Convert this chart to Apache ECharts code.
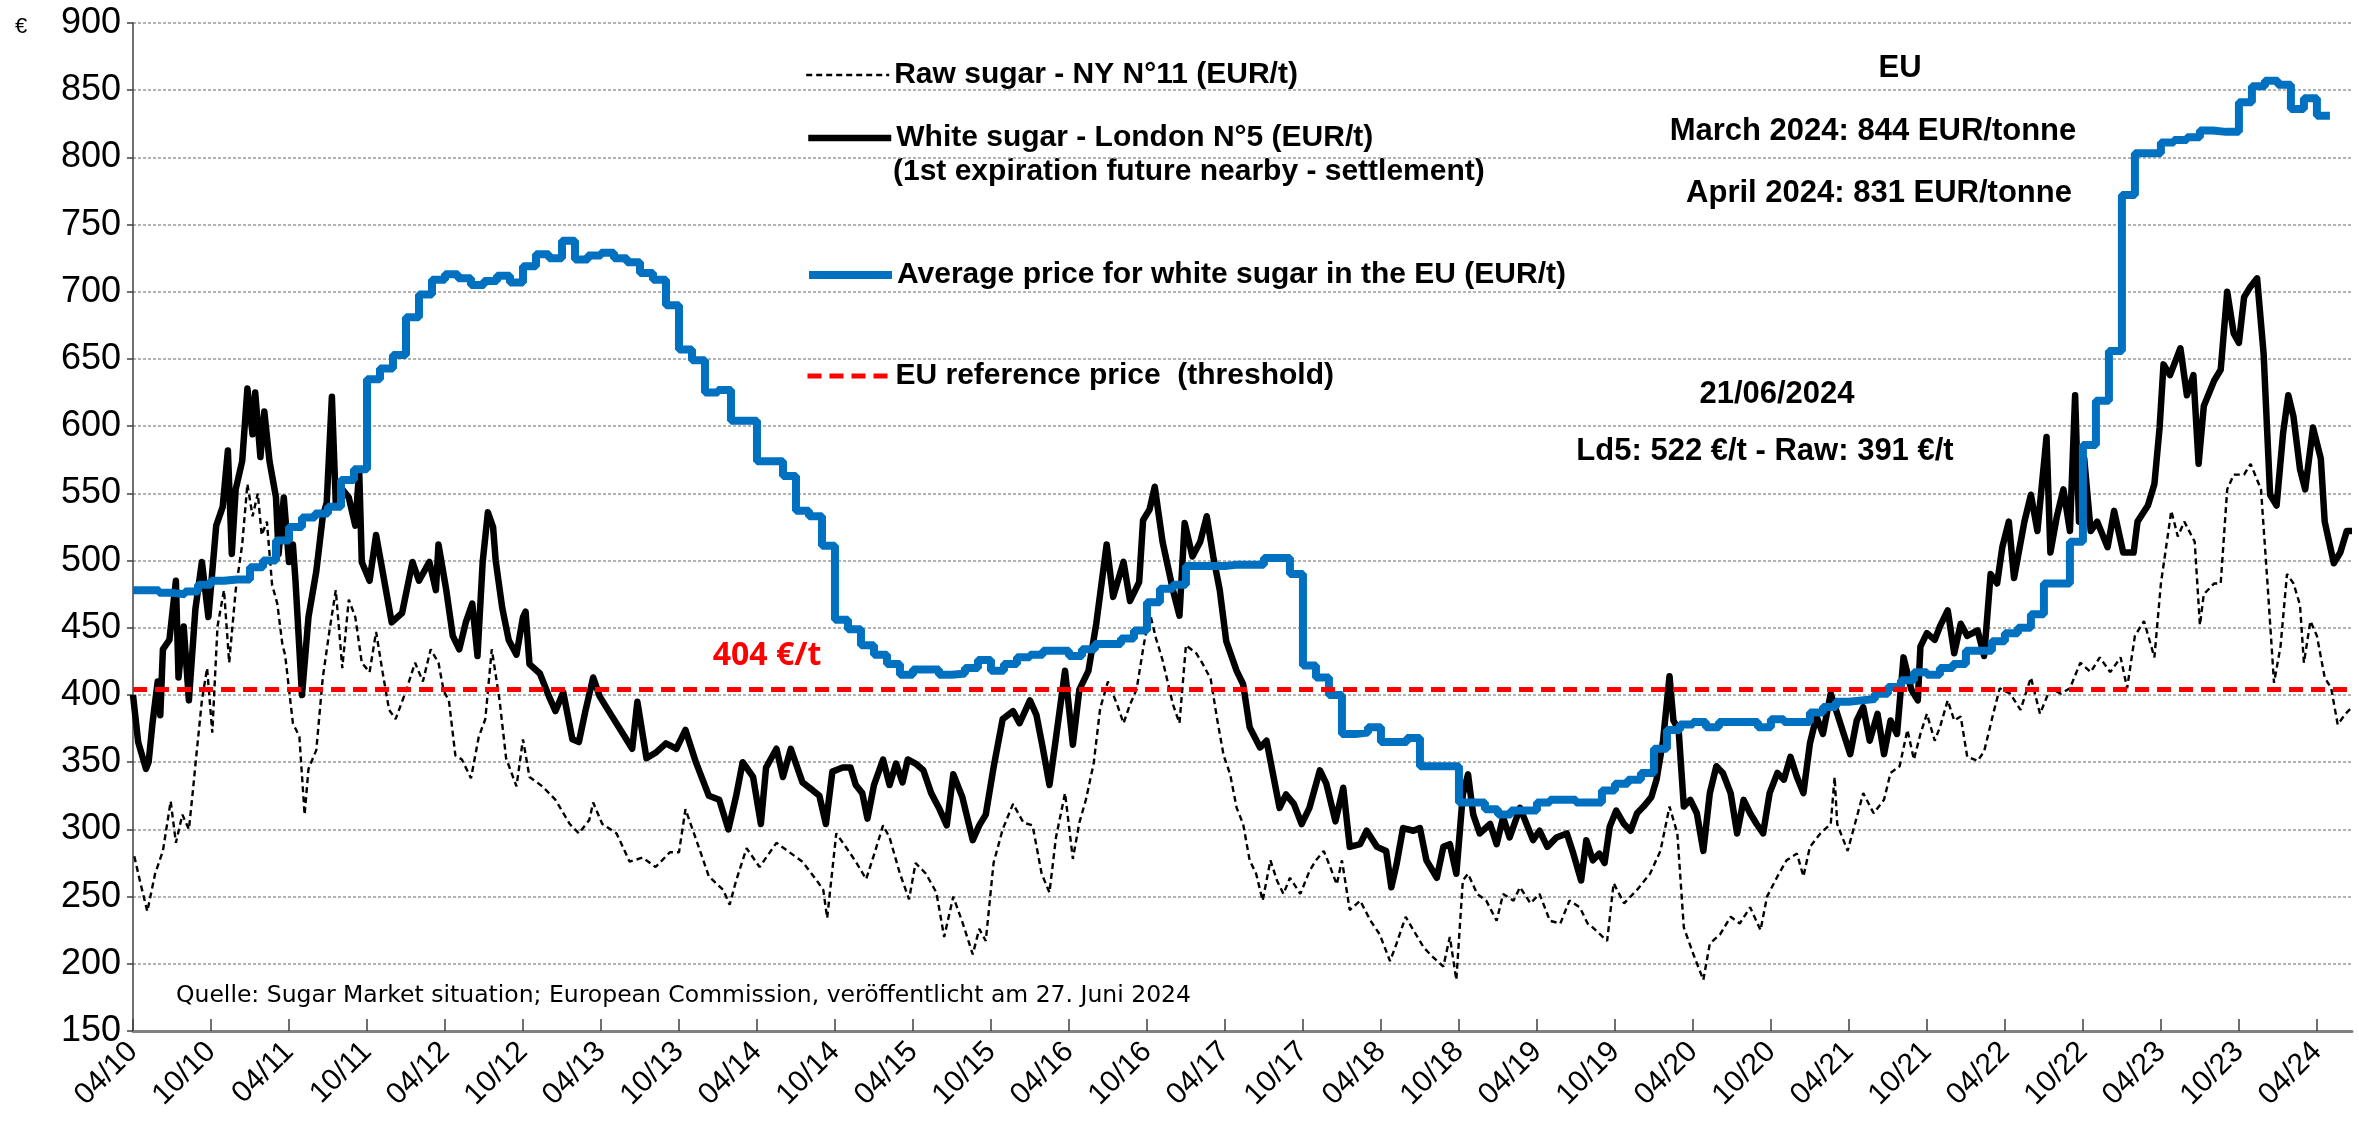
<!DOCTYPE html>
<html>
<head>
<meta charset="utf-8">
<title>Sugar prices</title>
<script src="https://cdn.jsdelivr.net/npm/echarts@6/dist/echarts.min.js"></script>
<style>
  html, body { margin: 0; padding: 0; background: #fff; }
  #chart { width: 2359px; height: 1131px; }
</style>
</head>
<body>
<div id="chart"></div>
<script>
// x values are months counted from April 2010 (0 = 04/10)
var xTickLabels = ['04/10','10/10','04/11','10/11','04/12','10/12','04/13','10/13','04/14','10/14',
  '04/15','10/15','04/16','10/16','04/17','10/17','04/18','10/18','04/19','10/19',
  '04/20','10/20','04/21','10/21','04/22','10/22','04/23','10/23','04/24'];

// EU average price for white sugar, one value per month from 04/2010 to 04/2024 (EUR/t)
var euAverage = [
  478, 478, 476, 475, 477, 482, 485, 486, 486, 495, 500, 515,
  525, 532, 535, 540, 560, 568, 635, 643, 653, 681, 698, 709,
  713, 710, 705, 708, 712, 707, 719, 728, 725, 738, 724, 727,
  729, 725, 722, 714, 709, 690, 657, 649, 625, 627, 604, 604,
  574, 574, 563, 537, 533, 511, 456, 449, 437, 430, 423, 415,
  419, 419, 415, 416, 420, 426, 418, 423, 428, 430, 433, 433,
  429, 434, 438, 438, 442, 448, 469, 479, 482, 496, 496, 496,
  497, 497, 497, 502, 502, 490, 422, 413, 400, 371, 372, 376,
  365, 365, 368, 347, 347, 347, 320, 320, 315, 311, 314, 314,
  320, 322, 322, 320, 320, 329, 334, 337, 342, 360, 374, 378,
  380, 376, 380, 380, 380, 376, 382, 380, 380, 387, 391, 395,
  396, 397, 401, 406, 411, 417, 415, 420, 423, 433, 433, 440,
  446, 450, 460, 483, 483, 514, 586, 619, 656, 772, 803, 803,
  811, 813, 815, 820, 819, 819, 841, 853, 857, 854, 836, 844,
  831
];

// White sugar - London N°5, [month, EUR/t]
var whiteSugar = [
  [0,400],[0.4,365],[1.0,345],[1.2,350],[1.5,379],[1.9,410],[2.1,385],[2.3,434],[2.8,441],[3.3,485],
  [3.5,413],[3.9,451],[4.3,396],[4.8,464],[5.3,499],[5.8,458],[6.4,526],[6.9,540],[7.3,582],[7.6,505],
  [7.9,553],[8.4,574],[8.8,628],[9.2,594],[9.4,625],[9.8,577],[10.1,611],[10.5,574],[11.0,547],[11.2,505],
  [11.6,547],[12.0,499],[12.3,512],[12.5,485],[13.0,400],[13.5,458],[14.1,492],[14.6,533],[14.9,543],[15.3,622],
  [15.6,543],[16.1,553],[16.6,547],[17.1,526],[17.4,567],[17.6,499],[18.2,485],[18.7,519],[19.2,492],[19.9,454],
  [20.7,461],[21.5,499],[22.0,485],[22.8,499],[23.3,478],[23.5,512],[24.1,478],[24.6,444],[25.1,434],[25.6,454],
  [26.1,468],[26.5,429],[26.9,499],[27.3,536],[27.7,525],[27.9,500],[28.4,465],[28.9,441],[29.5,430],[30.0,458],
  [30.2,462],[30.5,423],[31.3,416],[32.0,399],[32.5,388],[33.1,402],[33.8,367],[34.3,365],[34.8,388],[35.4,413],
  [35.9,399],[36.6,388],[37.7,371],[38.4,360],[38.8,395],[39.5,353],[40.2,357],[41.0,364],[41.8,360],[42.5,374],
  [43.3,350],[44.3,325],[45.1,322],[45.8,300],[46.4,325],[46.9,350],[47.7,339],[48.3,304],[48.7,346],[49.5,360],
  [50.0,339],[50.6,360],[51.5,335],[52.3,329],[52.8,325],[53.3,304],[53.8,343],[54.6,346],[55.2,346],[55.6,333],
  [56.1,327],[56.5,308],[57.0,333],[57.7,352],[58.2,333],[58.7,349],[59.2,335],[59.6,352],[60.2,349],[60.8,344],
  [61.4,327],[62.0,316],[62.6,303],[63.1,341],[63.8,324],[64.6,292],[65.1,303],[65.6,311],[66.2,346],[66.9,382],
  [67.7,388],[68.2,379],[69.0,396],[69.5,385],[70.0,360],[70.5,333],[71.0,368],[71.7,418],[72.3,363],[72.8,404],
  [73.5,418],[74.1,453],[74.9,512],[75.4,473],[76.2,499],[76.7,470],[77.4,484],[77.7,530],[78.2,538],[78.6,555],
  [79.2,514],[80.0,478],[80.5,459],[80.9,528],[81.5,503],[82.1,514],[82.6,533],[83.1,503],[83.6,478],[84.1,440],
  [84.9,418],[85.4,408],[85.9,376],[86.7,361],[87.2,366],[87.7,341],[88.2,316],[88.7,326],[89.3,319],[89.9,304],
  [90.5,316],[91.3,344],[91.8,334],[92.5,306],[93.1,331],[93.6,287],[94.4,289],[94.9,299],[95.7,287],[96.4,284],
  [96.8,257],[97.2,274],[97.7,301],[98.5,299],[99.0,301],[99.5,277],[100.3,264],[100.8,287],[101.3,289],[101.8,267],
  [102.3,326],[102.7,341],[103.1,311],[103.6,297],[104.4,304],[104.9,289],[105.4,309],[105.9,294],[106.7,316],[107.2,304],
  [107.7,292],[108.2,299],[108.8,287],[109.5,294],[110.3,297],[110.8,282],[111.4,262],[111.8,292],[112.3,277],[112.8,282],
  [113.2,275],[113.6,302],[114.1,314],[114.7,304],[115.2,299],[115.7,312],[116.2,317],[116.8,324],[117.2,337],[117.7,366],
  [118.2,414],[118.5,381],[118.9,374],[119.3,317],[119.8,322],[120.3,312],[120.8,284],[121.3,327],[121.8,347],[122.3,342],
  [122.9,327],[123.4,297],[123.9,322],[124.4,312],[124.9,304],[125.4,297],[125.9,327],[126.5,342],[127.0,337],[127.5,354],
  [128.0,339],[128.5,327],[129.0,364],[129.5,384],[130.0,371],[130.6,401],[131.1,386],[131.6,371],[132.1,356],[132.6,381],
  [133.1,391],[133.6,366],[134.2,386],[134.7,356],[135.2,381],[135.7,371],[136.2,428],[136.8,404],[137.3,396],[137.5,436],
  [138.0,446],[138.6,441],[139.0,451],[139.6,463],[140.1,431],[140.6,453],[141.1,444],[141.9,448],[142.4,429],[142.9,490],
  [143.4,483],[143.8,510],[144.3,529],[144.7,487],[145.5,529],[146.0,549],[146.5,522],[147.2,592],[147.5,506],[148.0,533],
  [148.5,553],[149.0,522],[149.4,623],[149.7,529],[150.1,576],[150.6,522],[151.1,529],[151.9,510],[152.4,537],[153.1,506],
  [153.9,506],[154.2,529],[155.0,541],[155.5,557],[155.9,599],[156.2,646],[156.7,638],[157.5,658],[158.0,623],[158.5,638],
  [158.9,572],[159.3,615],[160.1,634],[160.6,642],[161.1,700],[161.6,669],[162.0,662],[162.4,696],[162.9,704],[163.4,710],
  [163.9,654],[164.4,549],[164.9,541],[165.4,595],[165.8,623],[166.2,607],[166.7,568],[167.1,553],[167.7,599],[168.3,576],
  [168.6,529],[169.3,498],[169.8,506],[170.3,522],[170.7,522]
];

// Raw sugar - NY N°11, [month, EUR/t]
var rawSugar = [
  [0.1,280],[0.5,263],[1.1,239],[1.7,267],[2.3,284],[2.9,321],[3.3,290],[3.8,311],[4.3,300],[4.6,328],
  [4.8,348],[5.3,396],[5.7,420],[6.1,372],[6.5,451],[7.0,478],[7.4,424],[7.9,478],[8.4,512],[8.8,557],
  [9.2,533],[9.6,550],[9.9,519],[10.3,529],[10.7,482],[11.1,468],[11.5,437],[11.7,430],[12.3,379],[12.8,369],
  [13.2,311],[13.5,345],[14.1,359],[14.6,413],[15.1,447],[15.6,478],[16.1,420],[16.6,471],[17.1,458],[17.6,424],
  [18.2,417],[18.7,447],[19.2,417],[19.7,389],[20.2,382],[21.0,403],[21.7,424],[22.3,410],[22.9,434],[23.5,424],
  [23.9,403],[24.3,396],[24.8,355],[25.3,352],[26.0,338],[26.6,369],[27.1,382],[27.6,434],[28.2,396],[28.7,353],
  [29.5,332],[30.0,367],[30.5,339],[31.5,332],[32.5,322],[33.6,304],[34.3,297],[35.1,307],[35.4,320],[36.1,304],
  [37.2,297],[38.2,276],[39.2,279],[40.2,272],[41.3,283],[42.0,283],[42.5,315],[43.3,293],[44.3,265],[45.4,255],
  [45.9,244],[46.4,262],[47.2,286],[48.2,272],[49.5,290],[50.5,283],[51.5,276],[52.6,262],[53.1,255],[53.4,234],
  [54.1,297],[54.9,286],[55.6,276],[56.4,263],[57.0,281],[57.7,303],[58.2,294],[59.0,267],[59.7,248],[60.2,275],
  [61.0,267],[61.8,253],[62.4,220],[63.1,250],[63.8,231],[64.6,207],[65.1,226],[65.6,217],[66.2,275],[66.9,300],
  [67.7,319],[68.5,305],[69.2,303],[69.9,267],[70.5,253],[71.0,294],[71.7,327],[72.3,278],[72.8,305],[73.3,322],
  [73.9,349],[74.4,390],[75.0,410],[75.7,393],[76.2,379],[76.7,393],[77.2,404],[77.7,434],[78.2,462],[78.7,442],
  [79.2,426],[80.0,393],[80.5,379],[81.0,437],[81.8,431],[82.3,423],[82.9,412],[83.4,382],[83.9,355],[84.4,341],
  [84.9,316],[85.4,304],[85.9,277],[86.4,267],[86.9,247],[87.5,277],[88.0,262],[88.5,252],[89.0,264],[89.8,252],
  [90.5,269],[91.0,277],[91.6,284],[92.1,272],[92.6,259],[93.0,277],[93.6,240],[94.4,247],[95.2,232],[95.9,222],
  [96.7,202],[97.2,215],[97.9,235],[98.5,225],[99.3,212],[100.0,205],[100.8,198],[101.3,220],[101.8,188],[102.3,262],
  [102.7,267],[103.4,252],[104.1,247],[104.9,232],[105.4,252],[106.2,247],[106.7,257],[107.5,245],[108.2,252],[109.0,232],
  [109.8,230],[110.5,247],[111.3,242],[111.9,230],[112.3,227],[113.4,217],[113.9,260],[114.7,245],[115.7,255],[116.7,267],
  [117.5,284],[118.2,317],[118.8,297],[119.3,227],[120.0,208],[120.8,188],[121.3,215],[122.1,222],[122.9,235],[123.6,230],
  [124.4,242],[125.2,225],[125.7,250],[126.5,265],[127.2,277],[128.0,282],[128.5,265],[129.0,287],[129.8,297],[130.6,304],
  [130.9,339],[131.1,304],[131.9,284],[132.6,309],[133.1,327],[133.9,312],[134.7,322],[135.2,342],[135.9,347],[136.5,374],
  [137.0,352],[137.5,371],[138.0,386],[138.6,366],[139.0,376],[139.6,396],[140.1,381],[140.6,384],[141.1,354],[141.9,351],
  [142.4,358],[143.1,386],[143.6,405],[144.4,401],[145.2,389],[146.0,413],[146.7,386],[147.5,405],[148.3,401],[149.0,405],
  [149.8,424],[150.6,417],[151.3,428],[152.1,417],[152.9,428],[153.4,405],[154.0,444],[154.7,455],[155.5,428],[156.0,483],
  [156.8,537],[157.3,518],[157.8,529],[158.6,514],[159.0,452],[159.3,475],[160.1,483],[160.6,483],[161.1,553],[161.6,564],
  [162.4,564],[162.9,572],[163.7,553],[164.2,483],[164.7,409],[165.2,436],[165.7,490],[166.2,483],[166.7,467],[167.0,424],
  [167.5,455],[168.0,444],[168.6,413],[169.1,405],[169.6,378],[170.2,386],[170.7,391]
];

var referencePrice = 404;
var yTicks = { min: 150, max: 900, step: 50 };

var seriesNames = [
  'Raw sugar - NY N°11 (EUR/t)',
  'White sugar - London N°5 (EUR/t)',
  'Average price for white sugar in the EU (EUR/t)',
  'EU reference price  (threshold)'
];

var xMax = whiteSugar[whiteSugar.length - 1][0];
var tickMonths = xTickLabels.map(function (l, i) { return i * 6; });

// monthly steps: each value holds for its month
var euData = euAverage.map(function (v, i) { return [i, v]; });
euData.push([euAverage.length, euAverage[euAverage.length - 1]]);

var FONT = "'Liberation Sans', Arial, sans-serif";

var styles = {
  raw:   { color: '#000', width: 2.4, type: [6, 4] },
  white: { color: '#000', width: 6.5, type: 'solid' },
  eu:    { color: '#0070c0', width: 8, type: 'solid' },
  ref:   { color: '#ff0000', width: 5, type: [14, 8] }
};

function legendAt(name, top, ls) {
  return {
    data: [name],
    left: 805,
    top: top,
    padding: 0,
    itemWidth: 83,
    itemHeight: 14,
    selectedMode: false,
    itemStyle: { opacity: 0 },
    lineStyle: { color: ls.color, width: ls.width, type: ls.type, cap: 'butt' },
    textStyle: { fontFamily: FONT, fontWeight: 'bold', fontSize: 30, color: '#000', lineHeight: 34 }
  };
}

function note(text, x, y, opts) {
  opts = opts || {};
  return {
    type: 'text',
    x: x,
    y: y,
    style: {
      text: text,
      fontFamily: opts.font || FONT,
      fontSize: opts.size || 31,
      fontWeight: opts.weight || 'bold',
      fill: opts.color || '#000',
      align: opts.align || 'center',
      verticalAlign: 'middle'
    }
  };
}

var chart = echarts.init(document.getElementById('chart'));

var option = {
  animation: false,
  backgroundColor: '#fff',
  grid: { left: 133, right: 7, top: 23, bottom: 100 },
  legend: [
    legendAt(seriesNames[0], 58, styles.raw),
    legendAt(seriesNames[1], 121, styles.white),
    legendAt(seriesNames[2], 258, styles.eu),
    legendAt(seriesNames[3], 359, styles.ref)
  ],
  xAxis: {
    type: 'value',
    min: 0,
    max: xMax,
    splitLine: { show: false },
    axisLine: { lineStyle: { color: '#808080', width: 3 } },
    axisTick: {
      customValues: tickMonths,
      inside: true,
      length: 12,
      lineStyle: { color: '#404040', width: 1.5 }
    },
    axisLabel: {
      customValues: tickMonths,
      rotate: 45,
      margin: 16,
      fontFamily: FONT,
      fontSize: 30,
      color: '#000',
      formatter: function (v) { return xTickLabels[Math.round(v / 6)]; }
    }
  },
  yAxis: {
    type: 'value',
    min: yTicks.min,
    max: yTicks.max,
    interval: yTicks.step,
    axisLine: { show: true, lineStyle: { color: '#404040', width: 1.5 } },
    axisTick: { show: true, length: 6, lineStyle: { color: '#404040', width: 1.5 } },
    splitLine: { lineStyle: { color: '#9a9a9a', width: 1.5, type: [3, 2] } },
    axisLabel: { fontFamily: FONT, fontSize: 36, color: '#000', margin: 12 }
  },
  series: [
    {
      name: seriesNames[0],
      type: 'line',
      data: rawSugar,
      symbol: 'none',
      color: styles.raw.color,
      lineStyle: styles.raw,
      z: 2
    },
    {
      name: seriesNames[1],
      type: 'line',
      data: whiteSugar,
      symbol: 'none',
      color: styles.white.color,
      lineStyle: { color: styles.white.color, width: styles.white.width, join: 'round' },
      z: 3
    },
    {
      name: seriesNames[2],
      type: 'line',
      data: euData,
      step: 'end',
      symbol: 'none',
      color: styles.eu.color,
      lineStyle: styles.eu,
      z: 4
    },
    {
      name: seriesNames[3],
      type: 'line',
      data: [[0, referencePrice], [xMax, referencePrice]],
      symbol: 'none',
      color: styles.ref.color,
      lineStyle: styles.ref,
      z: 5
    }
  ],
  graphic: [
    note('(1st expiration future nearby - settlement)', 893, 172, { align: 'left', size: 30 }),
    note('EU', 1900, 68),
    note('March 2024: 844 EUR/tonne', 1873, 131),
    note('April 2024: 831 EUR/tonne', 1879, 193),
    note('21/06/2024', 1777, 394),
    note('Ld5: 522 €/t - Raw: 391 €/t', 1765, 451),
    note(referencePrice + ' €/t', 767, 656, { color: '#ff0000', font: "'Noto Sans', 'Open Sans', sans-serif", size: 32 }),
    note('Quelle: Sugar Market situation; European Commission, veröffentlicht am 27. Juni 2024', 176, 996,
      { align: 'left', weight: 'normal', size: 23.5, font: "'DejaVu Sans', sans-serif" }),
    note('€', 21, 27, { weight: 'normal', size: 22 })
  ]
};

chart.setOption(option);
</script>
</body>
</html>
